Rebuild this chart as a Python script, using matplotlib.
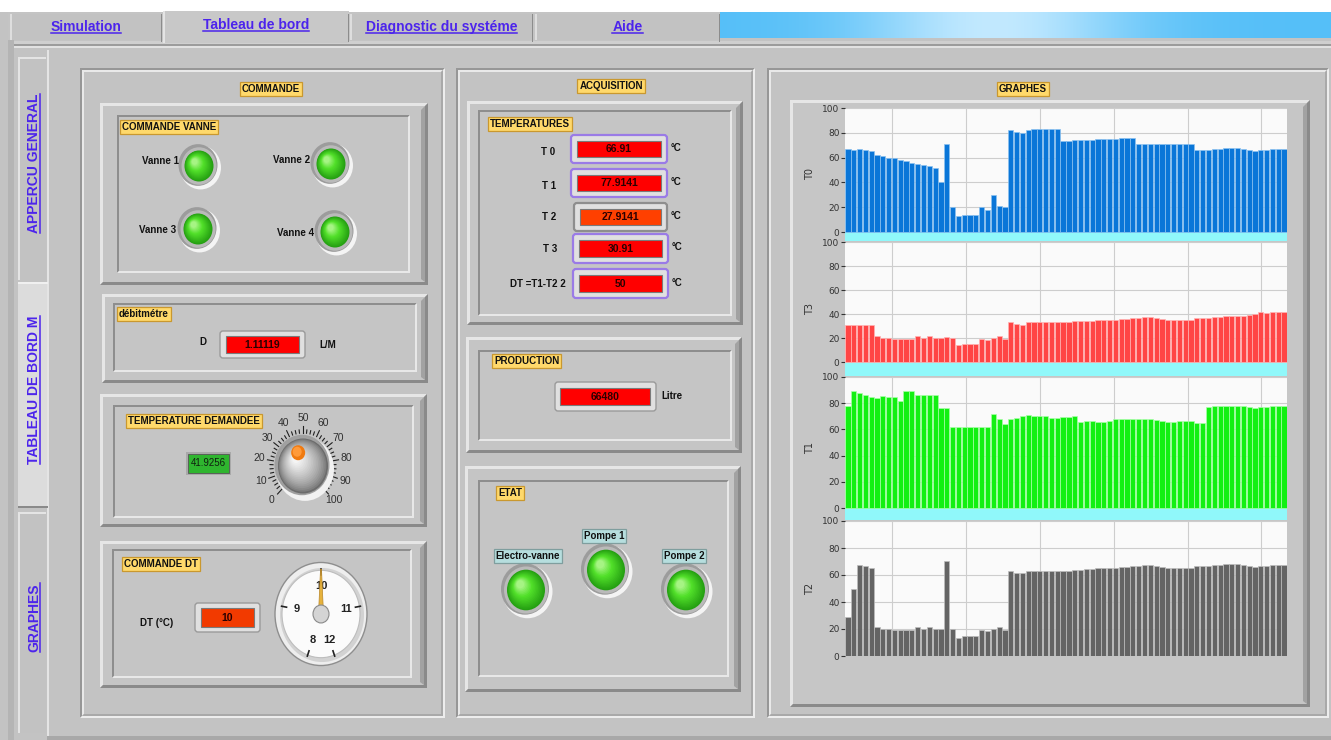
import numpy as np
import matplotlib.pyplot as plt
from matplotlib import font_manager
from matplotlib.patches import Rectangle, Polygon, Ellipse, FancyBboxPatch
from matplotlib.colors import to_rgb

# texts and values shown on the front panel
top_tabs = ['Simulation', 'Tableau de bord', 'Diagnostic du systéme', 'Aide']
side_tabs = ['APPERCU GENERAL', 'TABLEAU DE BORD M', 'GRAPHES']
vanne_labels = ['Vanne 1', 'Vanne 2', 'Vanne 3', 'Vanne 4']
debit_value = '1.11119'
temp_demandee = 41.9256
knob_ticks = [0, 10, 20, 30, 40, 50, 60, 70, 80, 90, 100]
dt_value = 10
dt_ticks = [8, 9, 10, 11, 12]
temp_labels = ['T 0', 'T 1', 'T 2', 'T 3', 'DT =T1-T2 2']
temp_values = ['66.91', '77.9141', '27.9141', '30.91', '50']
production_value = '66480'
etat_labels = ['Electro-vanne', 'Pompe 1', 'Pompe 2']

# graph data (one bar per sample)
graph_names = ['T0', 'T3', 'T1', 'T2']
t0_values = [67, 66, 67, 66, 65, 62, 61, 60, 60, 58, 57, 56, 55, 54, 53, 52, 40, 71, 20, 13,
             14, 14, 14, 20, 18, 30, 21, 20, 82, 81, 80, 82, 83, 83, 83, 83, 83, 73, 73, 74,
             74, 74, 74, 75, 75, 75, 75, 76, 76, 76, 71, 71, 71, 71, 71, 71, 71, 71, 71, 71,
             66, 66, 66, 67, 67, 68, 68, 68, 67, 66, 65, 66, 66, 67, 67, 67]
t3_values = [31, 31, 31, 31, 31, 22, 20, 20, 19.5, 19.5, 19.5, 19.5, 22, 20, 22, 20, 20, 21, 20, 14,
             15, 15, 15, 19.5, 18.5, 20, 22, 19.5, 33, 32, 31, 33, 33.5, 33.5, 33.5, 33.5, 33.5, 33.5, 33.5, 34,
             34, 34, 34, 35, 35, 35, 35, 36, 36, 36.5, 36.5, 37.5, 37.5, 37, 36, 35, 35, 35, 35, 35,
             36.5, 36.5, 36.5, 37.5, 37.5, 38, 38, 38, 38, 39, 40, 41.5, 40.5, 41.5, 41.5, 41.5]
t1_values = [78, 89.5, 87.5, 86, 84.5, 84, 85.5, 84.5, 84.5, 82, 89, 89, 86, 86, 86, 86, 76, 76, 62, 62,
             62, 62, 62, 62, 62, 72, 68, 64.5, 68, 69, 70.5, 71, 70.5, 70.5, 70.5, 69, 69, 69.5, 69.5, 70.5,
             66, 66.5, 66.5, 66, 66, 66.5, 68, 68, 68, 68, 68, 68, 68, 67.5, 66.5, 66, 66, 66.5, 66.5, 66.5,
             65, 65, 77, 77.5, 77.5, 78, 78, 78, 77.5, 77, 76, 77, 77, 77.5, 77.5, 78]
t2_values = [29, 50, 67.5, 66.5, 65, 21.5, 20, 20, 19.5, 19.5, 19.5, 19.5, 21.5, 20, 21.5, 20, 20, 70.5, 20, 13,
             14.5, 14.5, 14.5, 19.5, 18.5, 20, 21.5, 19.5, 63, 61.5, 61.5, 63, 63, 63, 63, 63, 63, 63, 63, 63.5,
             63.5, 64.5, 64.5, 65, 65, 65, 65, 66, 66, 66.5, 66.5, 67.5, 67.5, 66.5, 66, 65, 65, 65, 65, 65,
             66.5, 66.5, 66.5, 67.5, 67.5, 68, 68, 68, 67.5, 66.5, 66, 66.5, 66.5, 67.5, 67.5, 67.5]
graph_values = [t0_values, t3_values, t1_values, t2_values]
graph_colors = ['#0a76d8', '#ff4545', '#12f012', '#646464']
graph_edges = ['#8cc2f0', '#ffb4b4', '#a8ffa8', '#bdbdbd']
y_ticks = [0, 20, 40, 60, 80, 100]

names = {f.name for f in font_manager.fontManager.ttflist}
if 'Liberation Sans Narrow' in names:
    TAB_FONT, TAB_SIZE = 'Liberation Sans Narrow', 12
else:
    TAB_FONT, TAB_SIZE = 'Liberation Sans', 10
UI = ['Liberation Sans', 'DejaVu Sans']
LINK = '#4c24ec'

W, H = 1331, 740
fig = plt.figure(figsize=(W / 100, H / 100), dpi=100)
fig.patch.set_facecolor('#c3c3c3')
bg = fig.add_axes([0, 0, 1, 1])
bg.axis('off')


def rect(x0, y0, x1, y1, fc, ec='none', lw=0, z=1):
    bg.add_patch(Rectangle((x0, y0), x1 - x0, y1 - y0, fc=fc, ec=ec, lw=lw, zorder=z))


def bevel(x0, y0, x1, y1, w, tl, br, z=2):
    bg.add_patch(Polygon([(x0, y0), (x1, y0), (x1 - w, y0 + w), (x0 + w, y0 + w),
                          (x0 + w, y1 - w), (x0, y1)], fc=tl, ec='none', zorder=z))
    bg.add_patch(Polygon([(x1, y0), (x1, y1), (x0, y1), (x0 + w, y1 - w),
                          (x1 - w, y1 - w), (x1 - w, y0 + w)], fc=br, ec='none', zorder=z))


def big_panel(x0, y0, x1, y1):
    bevel(x0, y0, x1, y1, 2, '#979797', '#ededed')
    bevel(x0 + 2, y0 + 2, x1 - 2, y1 - 2, 2, '#e9e9e9', '#a9a9a9')


def frame3d(outer, inner=None, face='#c5c5c5'):
    x0, y0, x1, y1 = outer
    rect(x0, y0, x1, y1, face, z=2)
    bevel(x0, y0, x1, y1, 3, '#e6e6e6', '#8a8a8a', z=3)
    bg.add_patch(Polygon([(x1 - 3, y0 + 3), (x1 - 3, y1 - 3), (x1 - 7, y1 - 6), (x1 - 7, y0 + 7)],
                         fc='#a2a2a2', ec='none', zorder=3))
    if inner:
        a0, b0, a1, b1 = inner
        bevel(a0, b0, a1, b1, 2, '#8e8e8e', '#e8e8e8', z=3)


def blend(c1, c2, t):
    a, b = np.array(to_rgb(c1)), np.array(to_rgb(c2))
    return tuple(a + (b - a) * t)


def tag(x, y, s, ha='left', fc='#ffd96b', ec='#c9982f'):
    bg.text(x, y, s, ha=ha, va='center', fontsize=7, fontweight='bold', family=UI, color='#111',
            bbox=dict(boxstyle='square,pad=0.22', fc=fc, ec=ec, lw=0.9), zorder=12)


def label(x, y, s, ha='center', fs=7, weight='bold'):
    bg.text(x, y, s, ha=ha, va='center', fontsize=fs, fontweight=weight, family=UI,
            color='#111', zorder=12)


def led(cx, cy, r):
    fy = 1.07
    bg.add_patch(Ellipse((cx + 1.5, cy + 1.5), 2 * r + 12, (2 * r + 12) * fy, fc='#f4f4f4', zorder=5))
    bg.add_patch(Ellipse((cx - 1, cy - 1), 2 * r + 10, (2 * r + 10) * fy, fc='#9c9c9c', zorder=5))
    bg.add_patch(Ellipse((cx, cy), 2 * r + 6, (2 * r + 6) * fy, fc='#bababa', zorder=5))
    for t in np.linspace(0, 1, 16):
        rr = r * (1 - 0.8 * t)
        off = 0.3 * r * t
        if t < 0.6:
            col = blend('#25a012', '#52e02a', t / 0.6)
        else:
            col = blend('#52e02a', '#a6f484', (t - 0.6) / 0.4)
        bg.add_patch(Ellipse((cx - off, cy - off), 2 * rr, 2 * rr * fy, fc=col, zorder=6))


def display(box, inner, value, fc='#ff0000', edge='#9a9a9a', elw=1.0):
    x0, y0, x1, y1 = box
    bg.add_patch(FancyBboxPatch((x0, y0), x1 - x0, y1 - y0, boxstyle='round,pad=0,rounding_size=3',
                                fc='#e0e0e0', ec=edge, lw=elw, zorder=6))
    a0, b0, a1, b1 = inner
    rect(a0, b0, a1, b1, fc, ec='#7a7a7a', lw=0.8, z=7)
    bg.text((a0 + a1) / 2, (b0 + b1) / 2 + 0.5, value, ha='center', va='center', fontsize=7.5,
            fontweight='bold', family=UI, color='#2a0000', zorder=8)


# ---- window chrome ----
rect(0, 0, W, 12, 'white', z=0)
rect(8, 12, 720, 41, '#c4c4c4', z=1)
tab_x = [(10, 162), (163, 349), (350, 533), (535, 720)]
tab_base = [31, 29, 31, 31]
tab_texts = []
for k, (a, b) in enumerate(tab_x):
    if k == 1:
        rect(a, 11, b, 43, '#c8c8c8', z=2)
        rect(a, 11, a + 2, 43, '#e4e4e4', z=3)
    else:
        rect(a, 14, b, 40, '#c2c2c2', z=2)
        rect(a, 14, a + 1.5, 40, '#dedede', z=3)
    rect(b - 1.5, 14, b, 42, '#8c8c8c', z=3)
    tab_texts.append(bg.text((a + b) / 2, tab_base[k], top_tabs[k], ha='center', va='baseline',
                             fontsize=TAB_SIZE, fontweight='bold', family=TAB_FONT, color=LINK, zorder=10))

gx = np.linspace(0, 1, 400)
light = np.exp(-((gx - 0.45) / 0.22) ** 2)
c0, c1 = np.array(to_rgb('#55bff8')), np.array(to_rgb('#c2e9ff'))
grad = c0[None, :] * (1 - light[:, None]) + c1[None, :] * light[:, None]
bg.imshow(grad[None, :, :], extent=(720, W, 38, 12), aspect='auto', zorder=1)

rect(8, 40, 14, H, '#b4b4b4', z=1)
rect(14, 41, W, 44, '#cfcfcf', z=1)
rect(14, 44, W, 46, '#9c9c9c', z=1)
rect(14, 46, W, 48, '#e2e2e2', z=1)

# side tabs
side_y = [(55, 282), (282, 508), (510, 735)]
side_texts = []
for k, (a, b) in enumerate(side_y):
    if k == 1:
        rect(18, a, 48, b, '#dcdcdc', z=2)
        rect(18, a, 48, a + 2, '#f0f0f0', z=3)
        rect(18, b - 2, 48, b, '#8a8a8a', z=3)
    else:
        rect(18, a + 2, 46, b - 2, '#c2c2c2', z=2)
        rect(18, a + 2, 46, a + 3.5, '#e4e4e4', z=3)
        rect(18, a + 2, 19.5, b - 2, '#e4e4e4', z=3)
    side_texts.append(bg.text(38, (a + b) / 2 - 5, side_tabs[k], rotation=90, rotation_mode='anchor',
                              ha='center', va='baseline', fontsize=TAB_SIZE, fontweight='bold',
                              family=TAB_FONT, color=LINK, zorder=10))
rect(47, 50, 49, 736, '#e4e4e4', z=2)
rect(47, 736, W, 740, '#a8a8a8', z=2)

# ---- COMMANDE ----
big_panel(80, 68, 445, 718)
tag(271, 89, 'COMMANDE', ha='center')

frame3d((100, 103, 428, 285), (117, 115, 410, 273))
tag(122, 127, 'COMMANDE VANNE')
vanne_led = [(199, 166, 14.5), (331, 164, 14.5), (198, 229, 14.5), (335, 232, 14.5)]
vanne_txt = [(160.5, 161), (292, 160), (158, 230), (296, 233)]
for k in range(4):
    label(*vanne_txt[k], vanne_labels[k])
    led(*vanne_led[k])

frame3d((102, 294, 428, 383), (113, 303, 417, 372))
tag(119, 314, 'débitmétre')
label(203, 342, 'D')
display((220, 331, 305, 358), (226, 336, 299, 353), debit_value)
label(328, 345, 'L/M')

frame3d((100, 394, 427, 527), (113, 405, 414, 518))
tag(128, 421, 'TEMPERATURE DEMANDEE')
rect(186, 452, 231, 475, '#a9a9a9', z=6)
rect(188, 454, 229, 473, '#2fb52f', ec='#555', lw=0.6, z=7)
bg.text(208.5, 463.5, '%.4f' % temp_demandee, ha='center', va='center', fontsize=7, family=UI,
        color='#102010', zorder=8)

# knob
kx, ky, kr, kfy = 303, 466, 25, 1.1
for v in np.arange(0, 100.1, 2.5):
    th = np.radians(225 - 2.7 * v)
    r1 = 36 if v % 10 == 0 else 33
    bg.plot([kx + 30 * np.cos(th), kx + r1 * np.cos(th)],
            [ky - 30 * np.sin(th) * kfy, ky - r1 * np.sin(th) * kfy], color='#202020', lw=0.8, zorder=5)
for v in knob_ticks:
    th = np.radians(225 - 2.7 * v)
    bg.text(kx + 44 * np.cos(th), ky - 44 * np.sin(th) * kfy, str(v), ha='center', va='center',
            fontsize=7.5, family=UI, color='#303030', zorder=8)
bg.add_patch(Ellipse((kx + 2, ky + 3), 2 * kr + 8, (2 * kr + 8) * kfy, fc='#f2f2f2', zorder=5))
bg.add_patch(Ellipse((kx - 1, ky - 1), 2 * kr + 5, (2 * kr + 5) * kfy, fc='#a0a0a0', zorder=5))
for t in np.linspace(0, 1, 18):
    rr = kr * (1 - 0.85 * t)
    off = 0.28 * kr * t
    bg.add_patch(Ellipse((kx - off, ky - off), 2 * rr, 2 * rr * kfy,
                         fc=blend('#6c6c6c', '#f4f4f4', t ** 0.7), zorder=6))
th = np.radians(225 - 2.7 * temp_demandee)
dx, dy = kx + 13 * np.cos(th), ky - 13 * np.sin(th) * kfy
bg.add_patch(Ellipse((dx, dy), 14, 15, fc='#f07a10', zorder=7))
bg.add_patch(Ellipse((dx - 1, dy - 1), 9, 10, fc='#ff9a3a', zorder=7))

frame3d((100, 541, 427, 688), (112, 549, 412, 678))
tag(124, 564, 'COMMANDE DT')
label(157, 623, 'DT (°C)')
display((195, 603, 260, 632), (201, 608, 254, 627), str(dt_value), fc='#f23a00')

# dial
gx0, gy0, gfy = 321, 614, 1.12
bg.add_patch(Ellipse((gx0, gy0), 92, 92 * gfy, fc='#eeeeee', ec='#8e8e8e', lw=1.0, zorder=5))
bg.add_patch(Ellipse((gx0 + 1, gy0 + 1), 84, 84 * gfy, fc='#d2d2d2', zorder=5))
bg.add_patch(Ellipse((gx0, gy0), 78, 78 * gfy, fc='#fbfbfb', ec='#bdbdbd', lw=0.8, zorder=5))
for v in dt_ticks:
    th = np.radians(90 - 80 * (v - dt_value))
    bg.plot([gx0 + 35 * np.cos(th), gx0 + 40 * np.cos(th)],
            [gy0 - 35 * np.sin(th) * gfy, gy0 - 40 * np.sin(th) * gfy], color='#222', lw=1.2, zorder=6)
    bg.text(gx0 + 25 * np.cos(th), gy0 - 25 * np.sin(th) * gfy, str(v), ha='center', va='center',
            fontsize=8, fontweight='bold', family=UI, color='#222', zorder=8)
th = np.radians(90)
tipx, tipy = gx0 + 40 * np.cos(th), gy0 - 40 * np.sin(th) * gfy
bg.add_patch(Polygon([(gx0 - 2.5, gy0), (tipx - 0.5, tipy), (tipx + 0.5, tipy), (gx0 + 2.5, gy0)],
                     fc='#e6b23c', ec='#b8862a', lw=0.5, zorder=9))
bg.add_patch(Ellipse((gx0, gy0), 16, 16 * gfy, fc='#d4d4d4', ec='#8a8a8a', lw=0.8, zorder=10))

# ---- ACQUISITION ----
big_panel(456, 68, 755, 718)
tag(611, 86, 'ACQUISITION', ha='center')
frame3d((467, 101, 743, 325), (478, 110, 732, 316))
tag(490, 124, 'TEMPERATURES')
t_label_pos = [(548, 152), (549, 186), (549, 217), (550, 249), (538, 284)]
t_boxes = [(571, 135, 667, 163), (571, 169, 667, 197), (574, 203, 667, 231),
           (573, 234, 668, 263), (573, 269, 668, 298)]
t_fill = ['#ff0000', '#ff0000', '#ff4000', '#ff0000', '#ff0000']
t_edge = ['#9a7be6', '#9a7be6', '#8e8e8e', '#9a7be6', '#9a7be6']
for k in range(5):
    label(*t_label_pos[k], temp_labels[k])
    x0, y0, x1, y1 = t_boxes[k]
    display(t_boxes[k], (x0 + 6, y0 + 6, x1 - 6, y1 - 6), temp_values[k], fc=t_fill[k],
            edge=t_edge[k], elw=1.6)
    label(x1 + 9, (y0 + y1) / 2 - 1, '°C')

frame3d((466, 337, 742, 453), (478, 350, 732, 441))
tag(494, 361, 'PRODUCTION')
display((555, 382, 656, 411), (560, 388, 650, 405), production_value)
label(672, 396, 'Litre')

frame3d((465, 466, 741, 692), (478, 480, 729, 677))
tag(498, 493, 'ETAT')
etat_led = [(526, 590, 19), (606, 570, 19), (686, 590, 19)]
etat_txt = [(528, 556), (604, 536), (684, 556)]
for k in range(3):
    tag(*etat_txt[k], etat_labels[k], ha='center', fc='#b6dede', ec='#7f9e9e')
    led(*etat_led[k])

# ---- GRAPHES ----
big_panel(767, 68, 1329, 718)
tag(1023, 89, 'GRAPHES', ha='center')
frame3d((790, 100, 1310, 707), face='#c6c6c6')

bg.set_xlim(0, W)
bg.set_ylim(H, 0)

plot_left, plot_right = 845, 1287
chart_top = [108, 242, 377, 521]
chart_zero = [232, 362, 508, 656]
chart_bottom = [241, 376, 520, 656]
grid_x = np.arange(7.6, 75, 12.7)
for k in range(4):
    top, zero, bot = chart_top[k], chart_zero[k], chart_bottom[k]
    ax = fig.add_axes([plot_left / W, 1 - bot / H, (plot_right - plot_left) / W, (bot - top) / H])
    ymin = -100 * (bot - zero) / (zero - top)
    vals = graph_values[k]
    ax.set_facecolor('#fafafa')
    ax.set_axisbelow(True)
    ax.axhspan(ymin, 0, color='#90f8fa', zorder=2)
    ax.bar(np.arange(len(vals)), vals, width=0.9, color=graph_colors[k], edgecolor=graph_edges[k],
           linewidth=0.5, zorder=3)
    ax.set_xlim(-0.5, len(vals) - 0.5)
    ax.set_ylim(ymin, 100)
    ax.set_yticks(y_ticks)
    ax.set_xticks(grid_x)
    ax.set_xticklabels([])
    ax.tick_params(axis='x', length=0)
    ax.tick_params(axis='y', labelsize=6.5, length=3, width=0.8, pad=1, colors='#333333')
    ax.grid(True, color='#cdcdcd', lw=0.8)
    for s in ax.spines.values():
        s.set_visible(False)
    ax.set_ylabel(graph_names[k], fontsize=7, color='#333333', labelpad=5)

# underline the tab links
fig.canvas.draw()
ren = fig.canvas.get_renderer()
inv = bg.transData.inverted()
for k, t in enumerate(tab_texts):
    bb = t.get_window_extent(renderer=ren)
    (xa, _), (xb, _) = inv.transform([[bb.x0, bb.y0], [bb.x1, bb.y1]])
    bg.plot([xa, xb], [tab_base[k] + 2, tab_base[k] + 2], color=LINK, lw=1.1, zorder=11)
for t in side_texts:
    bb = t.get_window_extent(renderer=ren)
    (_, ya), (_, yb) = inv.transform([[bb.x0, bb.y0], [bb.x1, bb.y1]])
    bg.plot([40, 40], [ya, yb], color=LINK, lw=1.1, zorder=11)
bg.set_xlim(0, W)
bg.set_ylim(H, 0)

fig.savefig('out.png', dpi=100, facecolor=fig.get_facecolor())
